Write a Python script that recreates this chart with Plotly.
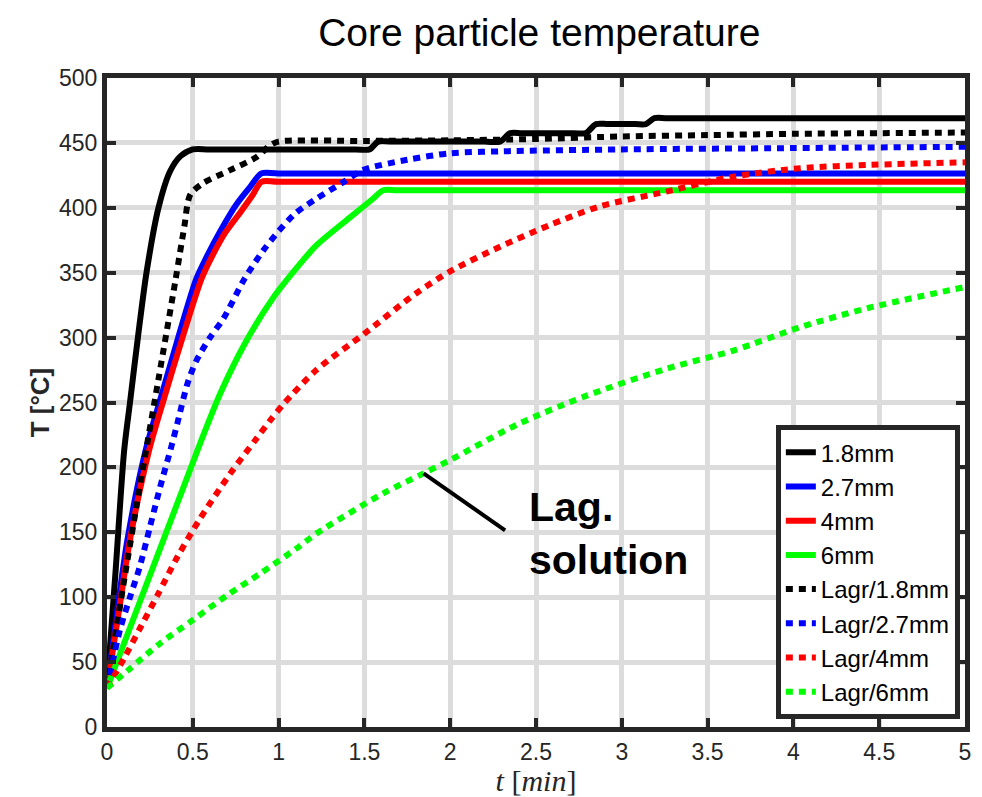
import plotly.graph_objects as go

# ---- data ----
t_s18 = [0, 0.05, 0.1, 0.134, 0.18, 0.23, 0.30, 0.367, 0.43, 0.5, 0.6, 1.45, 1.53, 1.58, 1.66,
         2.2, 2.29, 2.35, 2.42, 2.72, 2.79, 2.85, 2.92, 3.08, 3.14, 3.19, 3.27, 5]
T_s18 = [30, 120, 213, 250, 300, 350, 400, 428, 440, 445, 445, 445, 445, 451, 451,
         451, 451, 457.5, 457.5, 457.5, 457.5, 464.5, 464.5, 464.5, 464.5, 469, 469, 469]

t_s27 = [0, 0.06, 0.12, 0.225, 0.31, 0.415, 0.52, 0.58, 0.66, 0.756, 0.833, 0.9, 1.0, 5]
T_s27 = [30, 90, 145, 213, 252, 300, 345, 362, 382, 403, 416, 426.5, 426.5, 426.5]

t_s4 = [0, 0.07, 0.135, 0.245, 0.33, 0.44, 0.55, 0.61, 0.69, 0.78, 0.85, 0.9, 1.0, 5]
T_s4 = [30, 90, 145, 213, 252, 300, 345, 362, 381, 397, 410, 420, 420, 420]

t_s6 = [0, 0.55, 0.66, 0.81, 0.97, 1.12, 1.22, 1.42, 1.55, 1.61, 1.7, 5]
T_s6 = [30, 221, 257, 297, 331, 356, 371, 393, 407, 413.5, 413.5, 413.5]

t_l18 = [0, 0.1, 0.2, 0.3, 0.4, 0.45, 0.485, 0.56, 0.717, 0.87, 0.95, 1.0, 1.5, 2.0, 2.5, 3.0, 3.5, 4.0, 4.5, 5]
T_l18 = [30, 113, 192, 268, 345, 385, 410, 419, 429, 439, 448, 451, 451.5, 452, 453, 455, 456, 457, 457.5, 458]

t_l27 = [0, 0.076, 0.134, 0.19, 0.25, 0.31, 0.377, 0.41, 0.47, 0.52, 0.6, 0.68, 0.8, 0.91, 1.0, 1.1,
         1.22, 1.38, 1.49, 1.75, 2.0, 2.3, 3, 4, 5]
T_l27 = [30, 75, 100, 123, 154, 185, 217, 234, 265, 282, 300, 315, 345, 367, 382, 396,
         407, 420, 429, 437, 442, 443.5, 445, 446, 447]

t_l4 = [0, 0.1, 0.2, 0.3, 0.41, 0.54, 0.717, 0.87, 0.95, 1.03, 1.22, 1.5, 1.8, 2.0, 2.29, 2.58, 2.87,
        3.26, 3.65, 4.04, 4.43, 5]
T_l4 = [30, 53, 78, 103, 131, 160, 195, 222, 236, 249, 275, 303, 334, 351, 370, 386.7, 401,
        412.5, 424, 430.5, 433, 435]

t_l6 = [0, 0.134, 0.31, 0.5, 0.70, 0.89, 1.105, 1.22, 1.61, 1.845, 2.0, 2.39, 2.78, 3.26, 3.65, 4.04, 4.43, 5]
T_l6 = [30, 45, 64.5, 82.4, 101.5, 118, 137.6, 149, 180, 195.4, 205.7, 233, 254.5, 276, 290, 308, 322.6, 339]

names = ["1.8mm", "2.7mm", "4mm", "6mm", "Lagr/1.8mm", "Lagr/2.7mm", "Lagr/4mm", "Lagr/6mm"]
colors = ["#000000", "#0000ff", "#ff0000", "#00ff00", "#000000", "#0000ff", "#ff0000", "#00ff00"]
xs = [t_s18, t_s27, t_s4, t_s6, t_l18, t_l27, t_l4, t_l6]
ys = [T_s18, T_s27, T_s4, T_s6, T_l18, T_l27, T_l4, T_l6]

x_ticks = [0, 0.5, 1, 1.5, 2, 2.5, 3, 3.5, 4, 4.5, 5]
y_ticks = list(range(0, 501, 50))

# annotation anchor (point on the Lagr/6mm curve) and label
ann_point = (1.845, 195.4)
ann_line_end = (2.32, 151.5)
ann_box = (2.32, 3.545, 107, 198)
ann_text = "<b>Lag.<br>solution</b>"
ann_text_pos = (2.445, 149)

FONT = "Arial, Liberation Sans, sans-serif"
AX = "#262626"

fig = go.Figure()
for i, (n, c, x, y) in enumerate(zip(names, colors, xs, ys)):
    dotted = i >= 4
    fig.add_trace(go.Scatter(
        x=x, y=y, mode="lines", name=n,
        line=dict(color=c, width=6, dash="7px,6px" if dotted else "solid",
                  shape="spline", smoothing=0.8),
    ))

fig.add_shape(type="rect", x0=ann_box[0], x1=ann_box[1], y0=ann_box[2], y1=ann_box[3],
              xref="x", yref="y", fillcolor="white", line=dict(width=0), layer="below")
fig.add_shape(type="line", x0=ann_point[0], y0=ann_point[1], x1=ann_line_end[0], y1=ann_line_end[1],
              xref="x", yref="y", line=dict(color="black", width=4))
fig.add_annotation(x=ann_text_pos[0], y=ann_text_pos[1], xref="x", yref="y", text=ann_text,
                   showarrow=False, xanchor="left", yanchor="middle", align="left",
                   font=dict(family=FONT, size=41, color="black"))

axis_common = dict(
    showgrid=True, gridcolor="#dcdcdc", gridwidth=5,
    showline=True, linecolor=AX, linewidth=5, mirror="ticks",
    ticks="inside", ticklen=9, tickwidth=4, tickcolor=AX,
    tickfont=dict(family=FONT, size=23, color=AX),
    zeroline=False, automargin=False,
)

W, H = 974, 789  # page adds an 8px body margin
fig.update_layout(
    width=W, height=H,
    margin=dict(l=99, r=17, t=70, b=70),
    paper_bgcolor="white", plot_bgcolor="white",
    title=dict(text="Core particle temperature", x=0.5455, xanchor="center",
               y=1 - 24.5 / H, yref="container", yanchor="middle",
               font=dict(family=FONT, size=39, color="black")),
    xaxis=dict(range=[0, 5], tickvals=x_ticks, ticktext=[("%g" % v) for v in x_ticks],
               title=dict(text="<i>t</i> [<i>min</i>]", standoff=2,
                          font=dict(family="Liberation Serif, Times New Roman, serif", size=30, color=AX)),
               **axis_common),
    yaxis=dict(range=[0, 500], tickvals=y_ticks,
               title=dict(text="<b>T [°C]</b>", standoff=3,
                          font=dict(family=FONT, size=26, color=AX)),
               **axis_common),
    legend=dict(x=0.994, y=0.012, xanchor="right", yanchor="bottom",
                bgcolor="white", bordercolor=AX, borderwidth=5,
                font=dict(family=FONT, size=24, color="black"),
                itemwidth=30, tracegroupgap=0),
    showlegend=True,
)

fig.write_html("out.html")
